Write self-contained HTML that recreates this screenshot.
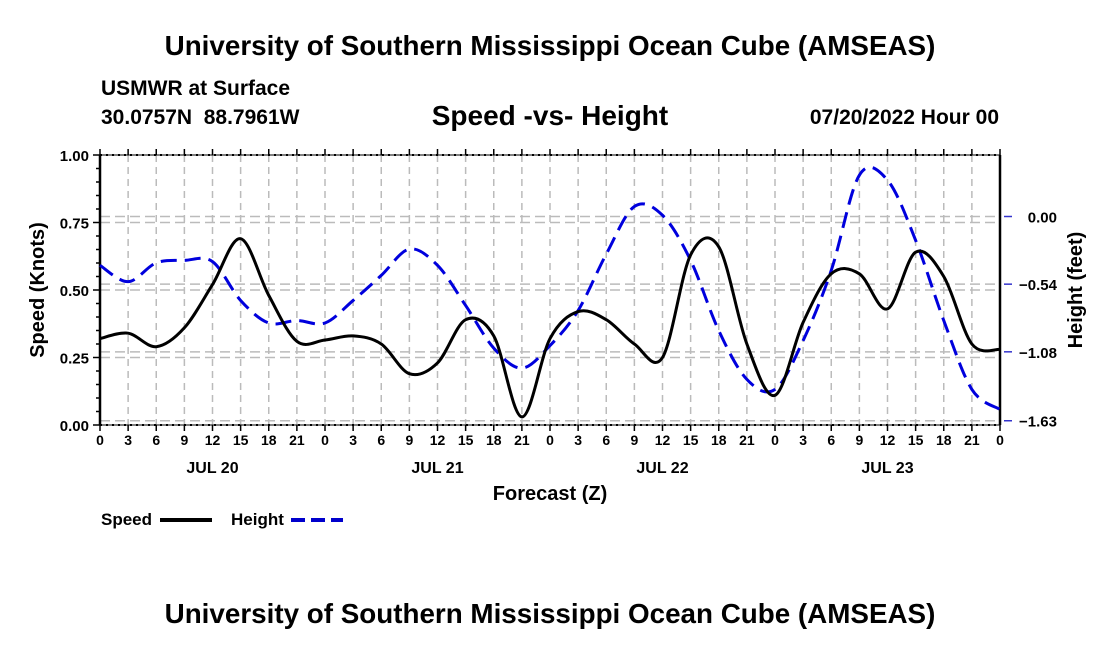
<!DOCTYPE html>
<html><head><meta charset="utf-8"><style>
body{margin:0;background:#fff;width:1100px;height:650px;overflow:hidden;font-family:"Liberation Sans",sans-serif}
</style></head><body>
<svg id="chart" width="1100" height="650" xmlns="http://www.w3.org/2000/svg" font-family="Liberation Sans, sans-serif" font-weight="bold">
<text x="550" y="55" font-size="27.8" text-anchor="middle">University of Southern Mississippi Ocean Cube (AMSEAS)</text>
<text x="101" y="95" font-size="21">USMWR at Surface</text>
<text x="101" y="124" font-size="21">30.0757N&#160;&#160;88.7961W</text>
<text x="550" y="125" font-size="28" text-anchor="middle">Speed -vs- Height</text>
<text x="999" y="124" font-size="21" text-anchor="end">07/20/2022 Hour 00</text>
<g id="grid"></g><g id="axes"></g><g id="series"></g>
<text x="550" y="500" font-size="20" text-anchor="middle">Forecast (Z)</text>
<text transform="translate(44,290) rotate(-90)" font-size="20" text-anchor="middle">Speed (Knots)</text>
<text transform="translate(1082,290) rotate(-90)" font-size="20" text-anchor="middle">Height (feet)</text>
<g><text x="101" y="525" font-size="17">Speed</text><line x1="160" y1="520" x2="212" y2="520" stroke="#000" stroke-width="4"/></g>
<g><text x="231" y="525" font-size="17">Height</text><line x1="291" y1="520" x2="343" y2="520" stroke="#0000cc" stroke-width="4" stroke-dasharray="14,6"/></g>
<text x="550" y="623" font-size="27.8" text-anchor="middle">University of Southern Mississippi Ocean Cube (AMSEAS)</text>
</svg>
<script>
const hours=[0,3,6,9,12,15,18,21,24,27,30,33,36,39,42,45,48,51,54,57,60,63,66,69,72,75,78,81,84,87,90,93,96];
const speed=[0.32,0.34,0.29,0.36,0.52,0.69,0.48,0.31,0.315,0.33,0.30,0.19,0.23,0.39,0.33,0.03,0.32,0.42,0.39,0.30,0.25,0.63,0.66,0.30,0.11,0.38,0.56,0.56,0.43,0.64,0.55,0.30,0.28];
const height=[-0.39,-0.52,-0.37,-0.35,-0.36,-0.67,-0.85,-0.83,-0.85,-0.67,-0.47,-0.26,-0.39,-0.71,-1.05,-1.21,-1.03,-0.75,-0.30,0.08,0.01,-0.35,-0.91,-1.30,-1.38,-0.99,-0.43,0.33,0.29,-0.19,-0.83,-1.38,-1.54];
const speedTicks=[0,0.25,0.5,0.75,1.0];
const heightTicks=[0,-0.54,-1.08,-1.63];
const hourLabels=["0","3","6","9","12","15","18","21"];
const dayLabels=["JUL 20","JUL 21","JUL 22","JUL 23"];
const L=100,R=1000,T=155,B=425;
const xs=h=>L+(R-L)*h/96;
const ys=v=>B-(B-T)*v;
const yh=v=>216.5-v*125.3;
const NS="http://www.w3.org/2000/svg";
function mk(tag,attrs,parent){const e=document.createElementNS(NS,tag);for(const k in attrs)e.setAttribute(k,attrs[k]);parent.appendChild(e);return e;}
const grid=document.getElementById('grid'),axes=document.getElementById('axes'),series=document.getElementById('series');
for(let h=3;h<96;h+=3){const l=mk('line',{x1:xs(h),x2:xs(h),y1:T,y2:B,stroke:'#bbb','stroke-width':1.5,'stroke-dasharray':'7,5'},grid);

}
speedTicks.forEach(v=>{if(v>0&&v<1){const l=mk('line',{x1:L,x2:R,y1:ys(v),y2:ys(v),stroke:'#bbb','stroke-width':1.5,'stroke-dasharray':'10,5'},grid);

}});
heightTicks.forEach(v=>{const l=mk('line',{x1:L,x2:R,y1:yh(v),y2:yh(v),stroke:'#bbb','stroke-width':1.5,'stroke-dasharray':'10,5'},grid);

});
mk('rect',{x:L,y:T,width:R-L,height:B-T,fill:'none',stroke:'#000','stroke-width':1},axes);
mk('line',{x1:L,x2:L,y1:T,y2:B,stroke:'#000','stroke-width':2.5},axes);
mk('line',{x1:R,x2:R,y1:T,y2:B,stroke:'#000','stroke-width':2.5},axes);
mk('line',{x1:L,x2:R,y1:T,y2:T,stroke:'#000','stroke-width':2,'stroke-dasharray':'2,4'},axes);
mk('line',{x1:L,x2:R,y1:B,y2:B,stroke:'#000','stroke-width':2,'stroke-dasharray':'2,4'},axes);
for(let v=0;v<=1.0001;v+=0.05){const major=Math.abs(v*4-Math.round(v*4))<1e-6;mk('line',{x1:L-(major?7:4),x2:L,y1:ys(v),y2:ys(v),stroke:'#000','stroke-width':1.5},axes);}
speedTicks.forEach(v=>{const t=mk('text',{x:L-11,y:ys(v)+6,'font-size':15,'text-anchor':'end'},axes);t.textContent=v.toFixed(2);

});
heightTicks.forEach(v=>{mk('line',{x1:R+4,x2:R+12,y1:yh(v),y2:yh(v),stroke:'#3333cc','stroke-width':1.5},axes);
const t=mk('text',{x:1057,y:yh(v)+6,'font-size':15,'text-anchor':'end'},axes);t.textContent=(v===0?'0.00':'\u2212'+Math.abs(v).toFixed(2));

});
for(let h=0;h<=96;h+=3){mk('line',{x1:xs(h),x2:xs(h),y1:B,y2:B+6,stroke:'#000','stroke-width':1.5},axes);
mk('line',{x1:xs(h),x2:xs(h),y1:T-6,y2:T,stroke:'#000','stroke-width':1.5},axes);
const t=mk('text',{x:xs(h),y:B+20,'font-size':14,'text-anchor':'middle'},axes);t.textContent=hourLabels[(h/3)%8];

}
dayLabels.forEach((d,i)=>{const t=mk('text',{x:xs(i*24+12),y:B+48,'font-size':16,'text-anchor':'middle'},axes);t.textContent=d;

});
function path(vals,yf){const p=hours.map((h,i)=>[xs(h),yf(vals[i])]);let d='M'+p[0][0]+','+p[0][1];
for(let i=0;i<p.length-1;i++){const p0=p[i-1]||p[i],p1=p[i],p2=p[i+1],p3=p[i+2]||p2;
d+=' C'+(p1[0]+(p2[0]-p0[0])/6)+','+(p1[1]+(p2[1]-p0[1])/6)+' '+(p2[0]-(p3[0]-p1[0])/6)+','+(p2[1]-(p3[1]-p1[1])/6)+' '+p2[0]+','+p2[1];}return d;}
const hp=mk('path',{d:path(height,yh),fill:'none',stroke:'#0000dd','stroke-width':3,'stroke-dasharray':'16,8'},series);


const sp=mk('path',{d:path(speed,ys),fill:'none',stroke:'#000','stroke-width':3},series);


</script>
</body></html>
